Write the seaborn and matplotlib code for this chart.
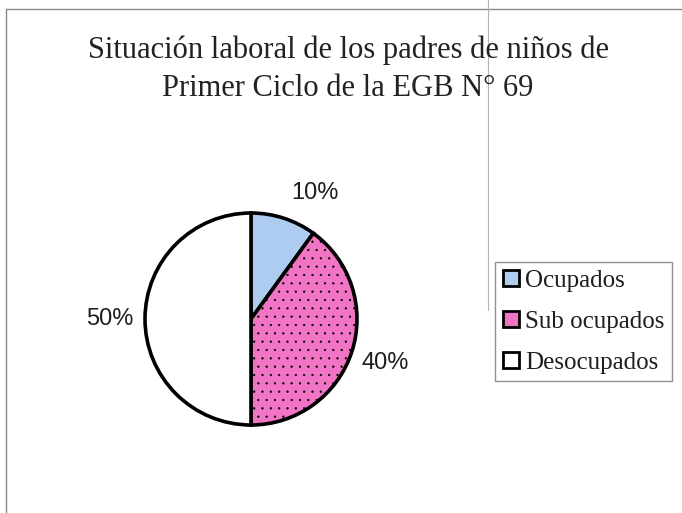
import numpy as np
import pandas as pd
import seaborn as sns
import matplotlib.pyplot as plt
from matplotlib.lines import Line2D

plt.switch_backend("Agg")

# data
categorias = ["Ocupados", "Sub ocupados", "Desocupados"]
porcentajes = [10, 40, 50]
colores = ["#aecbf0", "#f274c4", "#ffffff"]

titulo = "Situación laboral de los padres de niños de\nPrimer Ciclo de la EGB N° 69"

df = pd.DataFrame({"categoria": categorias, "pct": porcentajes})

sns.set_theme(style="white")
plt.rcParams["font.family"] = ["Liberation Serif", "DejaVu Serif"]
plt.rcParams["hatch.color"] = "#9a4080"
plt.rcParams["hatch.linewidth"] = 0.4

W, H = 682, 513
fig = plt.figure(figsize=(W / 100, H / 100), dpi=100)
fig.patch.set_facecolor("white")

# pie axes (center ~ (251, 319) px, radius ~ 106 px)
cx, cy, r = 251, 319, 106
ax = fig.add_axes([(cx - r) / W, (H - cy - r) / H, 2 * r / W, 2 * r / H])

wedges, textos, autotextos = ax.pie(
    df["pct"],
    colors=colores,
    startangle=90,
    counterclock=False,
    autopct="%1.0f%%",
    pctdistance=1.33,
    wedgeprops=dict(edgecolor="black", linewidth=2.6),
    textprops=dict(family="Liberation Sans", fontsize=17, color="#1e1e1e"),
)
wedges[1].set_hatch("..")
ax.set_xlim(-1, 1)
ax.set_ylim(-1, 1)
ax.axis("off")

# the first label sits a bit clockwise of its wedge middle in the original
ang = np.deg2rad(63)
autotextos[0].set_position((1.33 * np.cos(ang), 1.33 * np.sin(ang)))

# title
fig.text(348 / W, 1 - 69 / H, titulo, ha="center", va="center",
         fontsize=22, color="#222222", linespacing=1.42)

# legend
leg = fig.legend(
    wedges, df["categoria"],
    loc="upper left",
    bbox_to_anchor=(495 / W, 1 - 262 / H),
    borderaxespad=0,
    frameon=True, fancybox=False,
    fontsize=18, handlelength=0.64, handleheight=0.64,
    handletextpad=0.25, labelspacing=0.76, borderpad=0.3,
    labelcolor="#1e1e1e",
)
leg.get_frame().set_edgecolor("#777777")
leg.get_frame().set_linewidth(1.0)
for h in leg.legend_handles:
    h.set_hatch(None)
    h.set_linewidth(2.0)

# outer frame of the scanned chart and the scan crease
fig.add_artist(Line2D([6 / W, 6 / W], [0, 1 - 9 / H], color="#8a8a8a", lw=1.0))
fig.add_artist(Line2D([6 / W, 1], [1 - 9 / H, 1 - 9 / H], color="#8a8a8a", lw=1.0))
fig.add_artist(Line2D([488 / W, 488 / W], [1 - 310 / H, 1], color="#b4b4b4", lw=0.8))

plt.savefig("out.png", dpi=100)
